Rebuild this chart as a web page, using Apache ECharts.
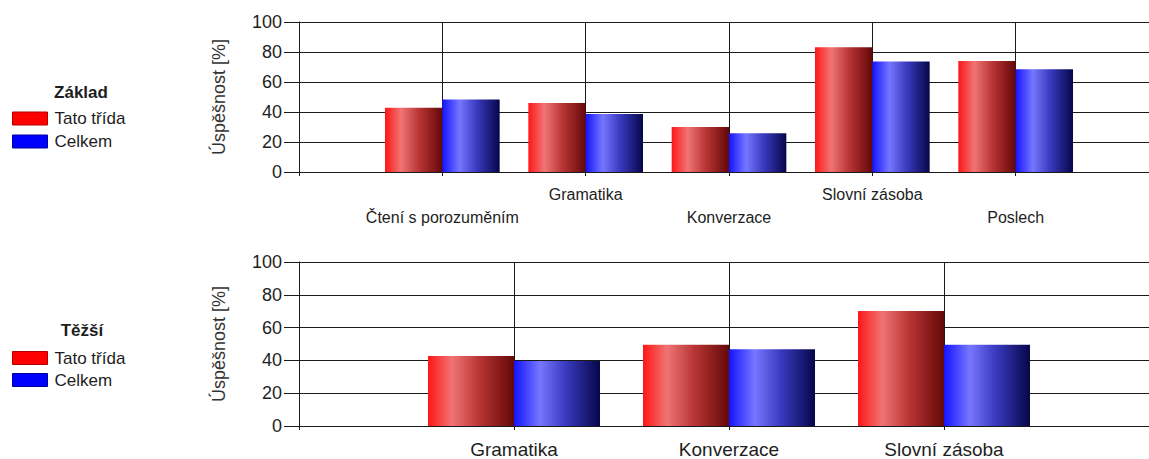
<!DOCTYPE html>
<html>
<head>
<meta charset="utf-8">
<script src="https://cdn.jsdelivr.net/npm/echarts@6/dist/echarts.min.js"></script>
<style>
html,body{margin:0;padding:0;background:#fff;overflow:hidden;}
#c{width:1149px;height:459px;}
</style>
</head>
<body>
<div id="c"></div>
<script>
// ---- data ----
const seriesNames = ['Tato třída', 'Celkem'];
const topTitle = 'Základ';
const topCategories = ['Čtení s porozuměním', 'Gramatika', 'Konverzace', 'Slovní zásoba', 'Poslech'];
const topTrida = [42.8, 46, 30, 83.2, 74];
const topCelkem = [48.3, 38.7, 25.8, 73.7, 68.5];

const bottomTitle = 'Těžší';
const bottomCategories = ['Gramatika', 'Konverzace', 'Slovní zásoba'];
const bottomTrida = [42.7, 49.6, 70.1];
const bottomCelkem = [39.6, 46.8, 49.6];

const yTicks = [0, 20, 40, 60, 80, 100];
const yAxisName = 'Úspěšnost [%]';

// ---- helpers ----
const pad = arr => ['-'].concat(arr, ['-']);
const padCat = arr => [''].concat(arr, ['']);
const FONT = '"Liberation Sans", Arial, sans-serif';
const TXT = '#1e1e1e';
const LINE = '#1a1a1a';

const redGrad = new echarts.graphic.LinearGradient(0, 0, 1, 0, [
  {offset: 0, color: '#ff1616'},
  {offset: 0.28, color: '#f07474'},
  {offset: 0.6, color: '#b83434'},
  {offset: 1, color: '#640808'}
]);
const blueGrad = new echarts.graphic.LinearGradient(0, 0, 1, 0, [
  {offset: 0, color: '#1414ff'},
  {offset: 0.3, color: '#7676ff'},
  {offset: 0.6, color: '#3a3ac0'},
  {offset: 1, color: '#06064a'}
]);

function yAxisDef(gridIndex) {
  return {
    type: 'value', gridIndex: gridIndex, min: yTicks[0], max: yTicks[yTicks.length - 1],
    interval: yTicks[1] - yTicks[0],
    name: yAxisName, nameLocation: 'middle', nameGap: 71,
    nameTextStyle: {fontFamily: FONT, fontSize: 18, color: '#333'},
    axisLine: {show: true, lineStyle: {color: LINE, width: 1}},
    axisTick: {show: true, length: 15, lineStyle: {color: LINE}},
    axisLabel: {margin: 17, fontFamily: FONT, fontSize: 18, color: TXT},
    splitLine: {show: true, lineStyle: {color: LINE, width: 1}}
  };
}

function xAxisDef(gridIndex, cats, fontSize, lineHeight, margin, stagger) {
  return {
    type: 'category', gridIndex: gridIndex, data: padCat(cats), boundaryGap: false,
    axisLine: {show: true, lineStyle: {color: LINE, width: 1}},
    axisTick: {show: true, length: 4, interval: 0, lineStyle: {color: LINE}},
    splitLine: {show: true, interval: 0, lineStyle: {color: LINE, width: 1}},
    axisLabel: {
      interval: 0, margin: margin, fontFamily: FONT, fontSize: fontSize,
      lineHeight: lineHeight, color: TXT,
      formatter: function (v, i) {
        if (!v) return '';
        return (stagger && i % 2 === 1) ? '\n' + v : v;
      }
    }
  };
}

function legendDef(top, gap) {
  return {
    orient: 'vertical', left: 12, top: top, padding: 0,
    itemWidth: 35, itemHeight: 13, itemGap: gap,
    icon: 'rect',
    textStyle: {fontFamily: FONT, fontSize: 17, color: TXT, padding: [0, 0, 0, 2]},
    data: [
      {name: seriesNames[0], itemStyle: {color: '#ff0000', borderColor: '#b00000', borderWidth: 1}},
      {name: seriesNames[1], itemStyle: {color: '#0000ff', borderColor: '#0000a0', borderWidth: 1}}
    ],
    selectedMode: false
  };
}

function bar(name, data, xi, color) {
  return {
    type: 'bar', name: name, xAxisIndex: xi, yAxisIndex: xi, data: pad(data),
    barWidth: '40%', barGap: '0%',
    itemStyle: {color: color},
    emphasis: {disabled: true},
    animation: false
  };
}

const chart = echarts.init(document.getElementById('c'), null, {renderer: 'svg'});
chart.setOption({
  backgroundColor: '#fff',
  animation: false,
  grid: [
    {left: 299, width: 860, top: 22, height: 150, outerBoundsMode: 'none', containLabel: false},
    {left: 299, width: 860, top: 262, height: 164, outerBoundsMode: 'none', containLabel: false}
  ],
  xAxis: [
    xAxisDef(0, topCategories, 16, 23, 11, true),
    xAxisDef(1, bottomCategories, 19, 18, 14.5, false)
  ],
  yAxis: [yAxisDef(0), yAxisDef(1)],
  legend: [legendDef(110, 6), legendDef(349.5, 5)],
  graphic: [
    {type: 'text', x: 81, y: 92, style: {text: topTitle, font: 'bold 17px ' + FONT, fill: TXT, align: 'center', verticalAlign: 'middle'}},
    {type: 'text', x: 82, y: 330, style: {text: bottomTitle, font: 'bold 17px ' + FONT, fill: TXT, align: 'center', verticalAlign: 'middle'}}
  ],
  series: [
    bar(seriesNames[0], topTrida, 0, redGrad),
    bar(seriesNames[1], topCelkem, 0, blueGrad),
    bar(seriesNames[0], bottomTrida, 1, redGrad),
    bar(seriesNames[1], bottomCelkem, 1, blueGrad)
  ]
});
</script>
</body>
</html>
